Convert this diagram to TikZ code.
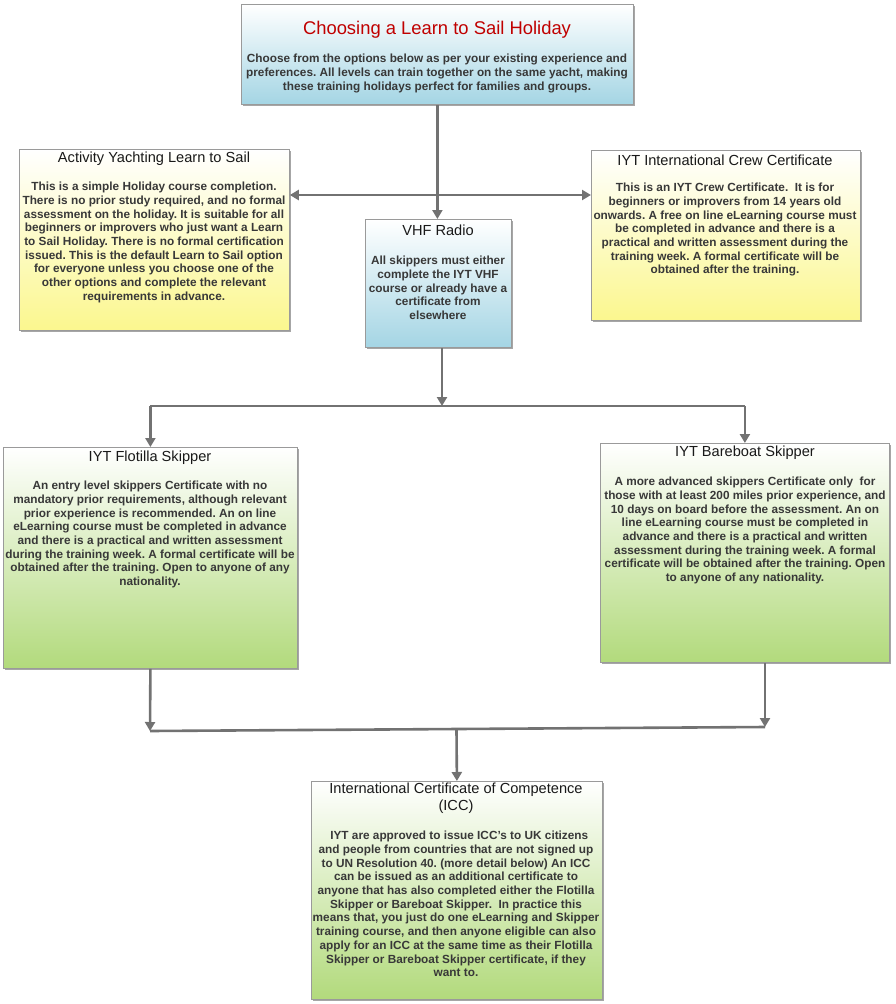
\documentclass[tikz,border=0pt]{standalone}
\usepackage{fontspec}
\setmainfont{Liberation Sans}
\frenchspacing
\usetikzlibrary{shadows,arrows.meta,calc}
\definecolor{linegray}{HTML}{727272}
\definecolor{bordergray}{HTML}{9A9A9A}
\definecolor{bodytext}{HTML}{383838}
\definecolor{titlered}{HTML}{C00000}
\definecolor{bluebot}{HTML}{A4D5E4}
\definecolor{bluemid}{HTML}{D6EEF3}
\definecolor{yelbot}{HTML}{FBF78E}
\definecolor{yelmid}{HTML}{FAF9CC}
\definecolor{grnbot}{HTML}{B2DA7C}
\definecolor{grnmid}{HTML}{DDEFC6}
\tikzset{
  boxbase/.style={draw=bordergray, line width=0.8pt, rectangle, inner sep=0pt, anchor=north west,
    drop shadow={shadow xshift=2pt, shadow yshift=-2pt, opacity=0.35, fill=black}},
  bluebox/.style={boxbase, top color=white, middle color=bluemid, bottom color=bluebot},
  yelbox/.style={boxbase, top color=white, middle color=yelmid, bottom color=yelbot},
  grnbox/.style={boxbase, top color=white, middle color=grnmid, bottom color=grnbot},
  boxtitle/.style={font=\fontsize{14.6}{17}\selectfont, text=black!90, align=center, inner sep=0pt},
  bodytxt/.style={font=\fontsize{11.8}{13.7}\selectfont\bfseries, text=bodytext, align=center, inner sep=0pt, anchor=north},
  conn/.style={draw=linegray, line width=2.6pt, -{Triangle[width=10pt,length=9pt]}},
  plainline/.style={draw=linegray, line width=2.6pt},
  dconn/.style={draw=linegray, line width=2.6pt, {Triangle[width=10pt,length=9pt]}-{Triangle[width=10pt,length=9pt]}}
}
\begin{document}
\begin{tikzpicture}[x=1pt,y=-1pt]
\useasboundingbox (0,0) rectangle (896,1004);
% boxes
\node[bluebox, minimum width=392pt, minimum height=100pt] (top) at (241,4) {};
\node[yelbox, minimum width=270pt, minimum height=181pt] (act) at (19,149) {};
\node[yelbox, minimum width=269pt, minimum height=170pt] (crew) at (591,150) {};
\node[bluebox, minimum width=146pt, minimum height=128pt] (vhf) at (365,219) {};
\node[grnbox, minimum width=294pt, minimum height=221pt] (flo) at (3,447) {};
\node[grnbox, minimum width=289pt, minimum height=219pt] (bb) at (600,443) {};
\node[grnbox, minimum width=291pt, minimum height=218pt] (icc) at (311,781) {};
% texts
\node[font=\fontsize{18.4}{22}\selectfont, text=titlered, inner sep=0pt] (toptitle) at (437,30) {Choosing a Learn to Sail Holiday};
\node[bodytxt] (topbody) at (437,54) {Choose from the options below as per your existing experience and\\preferences. All levels can train together on the same yacht, making\\these training holidays perfect for families and groups.};
\node[boxtitle] (acttitle) at (154,159) {Activity Yachting Learn to Sail};
\node[bodytxt] (actbody) at (154,182) {This is a simple Holiday course completion.\\There is no prior study required, and no formal\\assessment on the holiday. It is suitable for all\\beginners or improvers who just want a Learn\\to Sail Holiday. There is no formal certification\\issued. This is the default Learn to Sail option\\for everyone unless you choose one of the\\other options and complete the relevant\\requirements in advance.};
\node[boxtitle] (crewtitle) at (725,160) {IYT International Crew Certificate};
\node[bodytxt] (crewbody) at (725,183) {This is an IYT Crew Certificate.\ \ It is for\\beginners or improvers from 14 years old\\onwards. A free on line eLearning course must\\be completed in advance and there is a\\practical and written assessment during the\\training week. A formal certificate will be\\obtained after the training.};
\node[boxtitle] (vhftitle) at (438,230) {VHF Radio};
\node[bodytxt] (vhfbody) at (438,256) {All skippers must either\\complete the IYT VHF\\course or already have a\\certificate from\\elsewhere};
\node[boxtitle] (flotitle) at (150,458) {IYT Flotilla Skipper};
\node[bodytxt] (flobody) at (150,481) {An entry level skippers Certificate with no\\mandatory prior requirements, although relevant\\prior experience is recommended. An on line\\eLearning course must be completed in advance\\and there is a practical and written assessment\\during the training week. A formal certificate will be\\obtained after the training. Open to anyone of any\\nationality.};
\node[boxtitle] (bbtitle) at (745,453) {IYT Bareboat Skipper};
\node[bodytxt] (bbbody) at (745,477) {A more advanced skippers Certificate only\ \ for\\those with at least 200 miles prior experience, and\\10 days on board before the assessment. An on\\line eLearning course must be completed in\\advance and there is a practical and written\\assessment during the training week. A formal\\certificate will be obtained after the training. Open\\to anyone of any nationality.};
\node[boxtitle, anchor=north, font=\fontsize{14.6}{16.5}\selectfont] (icctitle) at (456,783) {International Certificate of Competence\\(ICC)};
\node[bodytxt] (iccbody) at (456,831) {\ \ IYT are approved to issue ICC's to UK citizens\\and people from countries that are not signed up\\to UN Resolution 40. (more detail below) An ICC\\can be issued as an additional certificate to\\anyone that has also completed either the Flotilla\\Skipper or Bareboat Skipper.\ \ In practice this\\means that, you just do one eLearning and Skipper\\training course, and then anyone eligible can also\\apply for an ICC at the same time as their Flotilla\\Skipper or Bareboat Skipper certificate, if they\\want to.};
% connectors
\coordinate (hy) at (0,195);
\draw[dconn] (act.east |- hy) -- (crew.west |- hy);
\draw[conn] (top.south) -- (top.south |- vhf.north);
\coordinate (s1) at (442,406);
\draw[conn] (vhf.south -| s1) -- (s1);
\draw[plainline] (flo.north |- s1) -- (bb.north |- s1);
\draw[conn] (flo.north |- s1) -- (flo.north);
\draw[conn] (bb.north |- s1) -- (bb.north);
\coordinate (jl) at (150,731);
\coordinate (jr) at (765,727);
\draw[conn] (flo.south) -- (jl);
\draw[conn] (bb.south -| jr) -- (jr);
\draw[plainline] (jl) -- (jr);
\coordinate (jm) at (456.5,730);
\draw[conn] (jm) -- (icc.north);
\end{tikzpicture}
\end{document}
